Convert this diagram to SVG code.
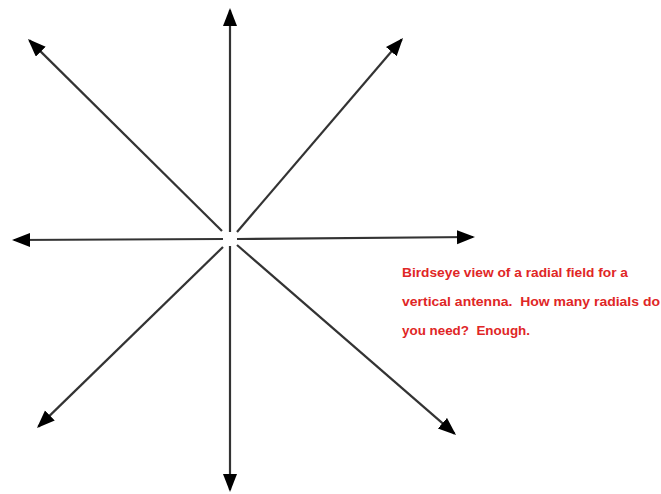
<svg xmlns="http://www.w3.org/2000/svg" width="661" height="494" viewBox="0 0 661 494">
<style>
.ray{stroke:#333;stroke-width:2.2;fill:none;marker-end:url(#ah)}
.cap{font-family:"Liberation Sans",Arial,sans-serif;font-weight:bold;font-size:13.5px;fill:#e02626;white-space:pre}
</style>
<defs>
<marker id="ah" markerUnits="userSpaceOnUse" markerWidth="20" markerHeight="16" refX="16" refY="7" orient="auto">
<path d="M0,0 L18,7 L0,14 z" fill="#000"/>
</marker>
</defs>
<rect width="661" height="494" fill="#fff"/>
<g id="connectors">
<line class="ray" x1="230" y1="232" x2="230" y2="10"/>
<line class="ray" x1="230" y1="246" x2="230" y2="490"/>
<line class="ray" x1="223" y1="239" x2="14" y2="240"/>
<line class="ray" x1="237" y1="239" x2="473" y2="237"/>
<line class="ray" x1="222" y1="231" x2="29.4" y2="40.4"/>
<line class="ray" x1="237" y1="232" x2="401.7" y2="39.5"/>
<line class="ray" x1="223" y1="247" x2="38.4" y2="426.6"/>
<line class="ray" x1="237" y1="245" x2="454.5" y2="433.7"/>
</g>
<g id="caption">
<text class="cap" x="402" y="277" textLength="226" lengthAdjust="spacingAndGlyphs">Birdseye view of a radial field for a</text>
<text class="cap" x="402" y="306" textLength="258" lengthAdjust="spacingAndGlyphs">vertical antenna.  How many radials do</text>
<text class="cap" x="402" y="335" textLength="128" lengthAdjust="spacingAndGlyphs">you need?  Enough.</text>
</g>
</svg>
